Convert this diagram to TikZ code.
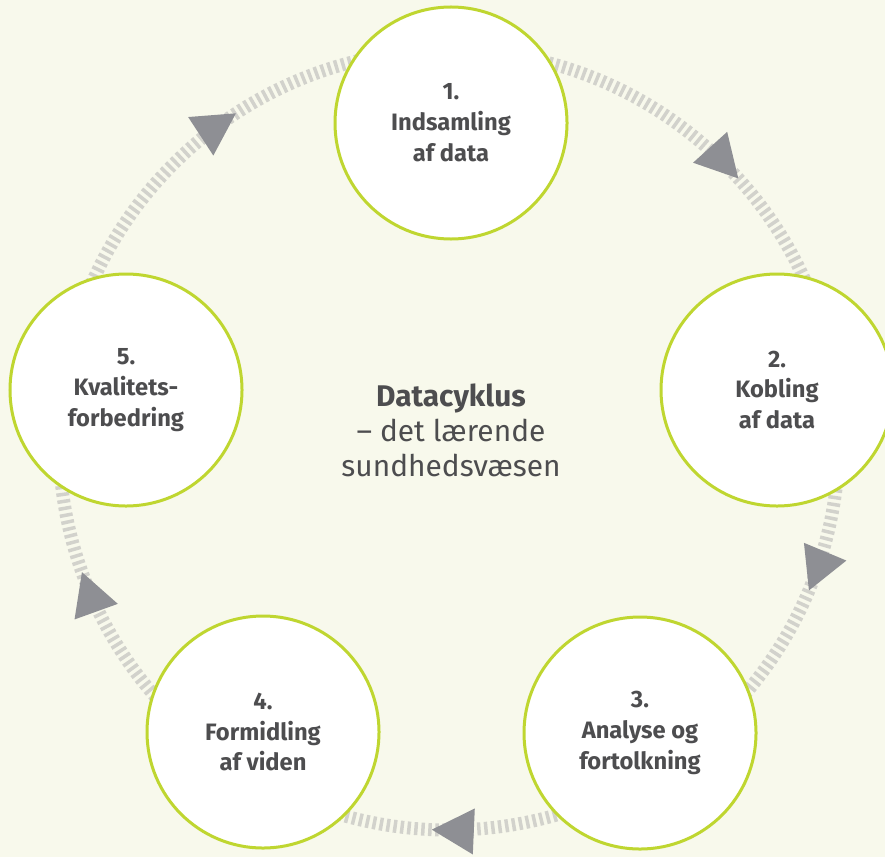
\documentclass[tikz,border=0pt]{standalone}
\usepackage{fontspec}
\setmainfont{Fira Sans}
\usepackage{tikz}
\usetikzlibrary{decorations.markings}

\definecolor{bgcream}{RGB}{248,249,236}
\definecolor{limegreen}{RGB}{191,214,48}
\definecolor{ringgray}{RGB}{210,210,204}
\definecolor{tipgray}{RGB}{142,143,148}
\definecolor{textgray}{RGB}{77,77,79}

\newcommand{\ringtip}{\fill[tipgray] (0pt,0pt) -- (-8.4mm,4.6mm) -- (-8.4mm,-4.6mm) -- cycle;}

\begin{document}
\begin{tikzpicture}[
    x = 0.2mm,
    y = -0.2mm,
    semithick
]

% Setup the styles for the stages
\tikzstyle{stage}=[draw=limegreen, line width=0.6mm, fill=white, circle, minimum size=46.4mm, inner sep=0pt, align=center, text=textgray, font=\fontsize{13.5}{17.6}\selectfont\bfseries]
\tikzstyle{ring}=[draw=ringgray, line width=2.6mm, dash pattern=on 0.7mm off 0.7mm]
\tikzstyle{title}=[align=center, text=textgray, font=\fontsize{17}{20}\selectfont]

% Background
\useasboundingbox (0,0) rectangle (885,857);
\fill[bgcream] (0,0) rectangle (885,857);

% Draw the ring with its arrows
\coordinate (hub) at (449,440);
\draw[ring, postaction={decorate}, decoration={markings,
    mark=at position 0.063 with {\ringtip},
    mark=at position 0.257 with {\ringtip},
    mark=at position 0.445 with {\ringtip},
    mark=at position 0.658 with {\ringtip},
    mark=at position 0.883 with {\ringtip}}] (hub) circle (390);

% Draw the stages
\node[stage] (s1) at (451,123) {1.\\Indsamling\\af data};
\node[stage] (s2) at (777,390) {2.\\Kobling\\af data};
\node[stage] (s3) at (640,733) {3.\\Analyse og\\fortolkning};
\node[stage] (s4) at (263,732) {4.\\Formidling\\af viden};
\node[stage] (s5) at (126,390) {5.\\Kvalitets-\\forbedring};

% Draw the title
\node[title] (cycle) at (451,430) {\textbf{Datacyklus}\\– det lærende\\sundhedsvæsen};

\end{tikzpicture}
\end{document}
